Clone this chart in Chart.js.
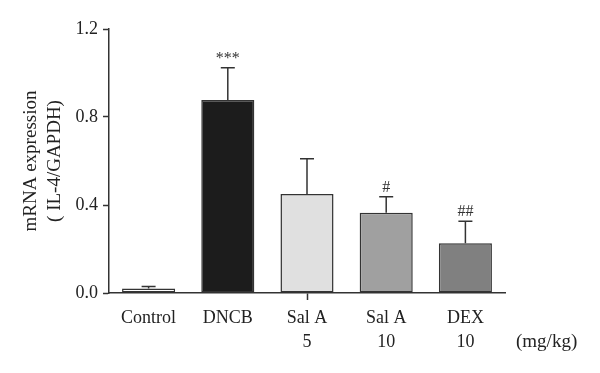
<!DOCTYPE html>
<html><head><meta charset="utf-8">
<script src="https://cdn.jsdelivr.net/npm/chart.js@4/dist/chart.umd.min.js"></script>
<style>html,body{margin:0;padding:0;background:#fff}#wrap{width:600px;height:373px}</style>
</head><body><div id="wrap"><canvas id="c" width="600" height="373"></canvas></div>
<script>
const categories = [["Control"], ["DNCB"], ["Sal A", "5"], ["Sal A", "10"], ["DEX", "10"]];
const values = [0.021, 0.877, 0.45, 0.365, 0.226];
const errors = [0.009, 0.147, 0.16, 0.073, 0.10];
const marks = ["", "***", "", "#", "##"];
const barColors = ["#ffffff", "#1c1c1c", "#e0e0e0", "#a0a0a0", "#808080"];
const yTicks = [0, 0.4, 0.8, 1.2];
const unitLabel = "(mg/kg)";
const FONT = "'Liberation Serif', 'DejaVu Serif', serif";

const errPlugin = {
  id: 'errs',
  afterDatasetsDraw(chart) {
    const ctx = chart.ctx, y = chart.scales.y, meta = chart.getDatasetMeta(0);
    ctx.save();
    ctx.strokeStyle = '#333'; ctx.lineWidth = 1.5;
    meta.data.forEach((bar, i) => {
      const top = y.getPixelForValue(values[i] + errors[i]);
      const base = y.getPixelForValue(values[i]);
      ctx.beginPath();
      ctx.moveTo(bar.x, base); ctx.lineTo(bar.x, top);
      ctx.moveTo(bar.x - 7, top); ctx.lineTo(bar.x + 7, top);
      ctx.stroke();
      if (marks[i]) {
        ctx.fillStyle = '#333';
        ctx.font = "16px " + FONT;
        ctx.textAlign = 'center'; ctx.textBaseline = 'bottom';
        ctx.fillText(marks[i], bar.x, top - 1);
      }
    });
    ctx.fillStyle = '#222';
    ctx.font = "19px " + FONT;
    ctx.textAlign = 'left'; ctx.textBaseline = 'middle';
    ctx.fillText(unitLabel, 516, 342);
    ctx.restore();
  }
};

new Chart(document.getElementById('c'), {
  type: 'bar',
  data: {
    labels: categories,
    datasets: [{
      data: values,
      backgroundColor: barColors,
      borderColor: '#333',
      borderWidth: 1.5,
      borderSkipped: false,
      barPercentage: 0.67,
      categoryPercentage: 1.0
    }]
  },
  options: {
    responsive: false,
    animation: false,
    devicePixelRatio: 1,
    layout: { padding: { top: 29, right: 95, left: 0, bottom: 0 } },
    plugins: { legend: { display: false }, tooltip: { enabled: false } },
    scales: {
      x: {
        grid: { display: true, drawOnChartArea: false, tickLength: 7, offset: false,
                tickColor: (c) => c.index === 2 ? '#333' : 'rgba(0,0,0,0)', tickWidth: 1.5 },
        border: { color: '#333', width: 1.5 },
        ticks: { color: '#222', font: { family: FONT, size: 18, lineHeight: 1.33 }, padding: 6, maxRotation: 0 },
        afterFit: (s) => { s.height = 80; }
      },
      y: {
        min: 0, max: 1.2,
        afterBuildTicks: (s) => { s.ticks = yTicks.map(v => ({ value: v })); },
        grid: { drawOnChartArea: false, tickLength: 6, tickColor: '#333', tickWidth: 1.5 },
        border: { color: '#333', width: 1.5 },
        ticks: { color: '#222', font: { family: FONT, size: 18 }, padding: 5,
                 callback: (v) => Number(v).toFixed(1) },
        title: { display: true, text: ["mRNA expression", "( IL-4/GAPDH)"], color: '#222',
                 font: { family: FONT, size: 19, lineHeight: 1.25 }, padding: { top: 19, bottom: 0 } },
        afterFit: (s) => { s.width = 109; }
      }
    }
  },
  plugins: [errPlugin]
});
</script></body></html>
